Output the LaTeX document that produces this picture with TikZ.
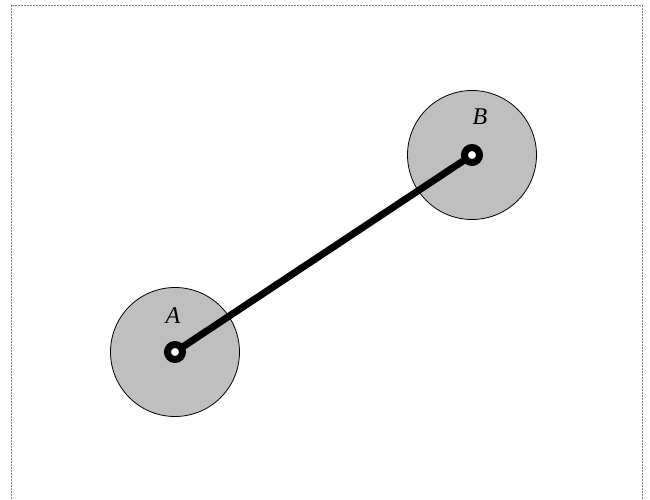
\documentclass[tikz,border=0pt]{standalone}
\usepackage{fontspec}
\setmainfont{Liberation Serif}
\begin{document}
\begin{tikzpicture}[x=1pt,y=-1pt,
  disc/.style={circle,draw=black,line width=0.8pt,fill=black!25,minimum size=129pt,inner sep=0pt},
  pin/.style={circle,draw=black,line width=7pt,fill=white,minimum size=15pt,inner sep=0pt},
  lbl/.style={font=\fontsize{24}{27}\selectfont\itshape}]
\useasboundingbox (0,0) rectangle (650,499);
\begin{scope}
\clip (0,0) rectangle (650,499);
\draw[gray,dashed,dash pattern=on 2pt off 1pt,line width=0.8pt] (11,5) rectangle (642,520);
\end{scope}
\node[disc] (dA) at (175,352) {};
\node[disc] (dB) at (472,155) {};
\coordinate (A) at (175,352);
\coordinate (B) at (472,155);
\draw[line width=7pt] (A) -- (B);
\node[pin] (pA) at (A) {};
\node[pin] (pB) at (B) {};
\node[lbl] (tA) at (173,316) {A};
\node[lbl] (tB) at (480,117) {B};
\end{tikzpicture}
\end{document}
